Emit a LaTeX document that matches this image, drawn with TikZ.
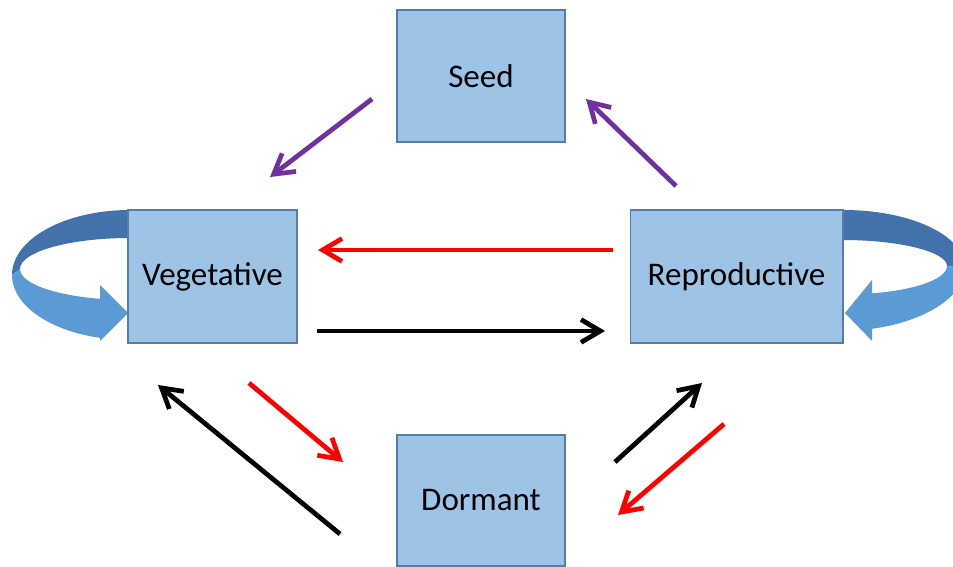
\documentclass[tikz,border=0pt]{standalone}
\usepackage{fontspec}
\setmainfont{Carlito}
\usetikzlibrary{arrows.meta}
\definecolor{boxfill}{RGB}{157,195,230}
\definecolor{boxline}{RGB}{84,125,170}
\definecolor{loopdark}{RGB}{66,113,172}
\definecolor{looplight}{RGB}{91,155,213}
\definecolor{seedpurple}{RGB}{112,48,160}
\begin{document}
\begin{tikzpicture}[x=0.02cm,y=-0.02cm,
  stage/.style={draw=boxline,line width=0.6pt,fill=boxfill,inner sep=0pt,font=\fontsize{18.8}{22}\selectfont},
  trans/.style={line width=2.7pt,-{Straight Barb[length=11pt,width=13pt]}}]
\clip (0,0) rectangle (953,567);
\fill[loopdark] (140,210) -- (130,210) .. controls (64.8,210) and (12,239.1) .. (12,275) -- (20,269) .. controls (20,251.9) and (69.25,238) .. (130,238) -- (140,238) -- cycle;
\begin{scope}
\clip (0,250) rectangle (100,350);
\fill[looplight] (12,275) .. controls (12,310.9) and (64.8,340) .. (130,340) -- (130,300) .. controls (69.25,300) and (20,286.1) .. (20,269) -- cycle;
\end{scope}
\fill[looplight] (100,285) -- (128,313) -- (100,341) -- cycle;
\fill[loopdark] (833,210) -- (843,210) .. controls (910,210) and (965,235) .. (965,268) -- (947,266) .. controls (947,252) and (900,240) .. (843,240) -- (833,240) -- cycle;
\begin{scope}
\clip (872,250) rectangle (953,350);
\fill[looplight] (965,268) .. controls (965,300) and (915,326) .. (860,330) -- (860,294) .. controls (910,292) and (947,280) .. (947,266) -- cycle;
\end{scope}
\fill[looplight] (872,280) -- (845,313) -- (872,341) -- cycle;
\node[stage,minimum width=3.36cm,minimum height=2.64cm] (seed) at (481,76) {Seed};
\node[stage,minimum width=3.38cm,minimum height=2.66cm] (veg) at (212.5,276.5) {Vegetative};
\node[stage,minimum width=4.26cm,minimum height=2.66cm] (repro) at (736.5,276.5) {Reproductive};
\node[stage,minimum width=3.36cm,minimum height=2.62cm] (dorm) at (481,500.5) {Dormant};
\coordinate (sv-a) at (372,99);
\coordinate (sv-b) at (270,177);
\coordinate (rs-a) at (676,186);
\coordinate (rs-b) at (586,99);
\coordinate (rv-a) at (613,250);
\coordinate (rv-b) at (318,250);
\coordinate (vr-a) at (317,331);
\coordinate (vr-b) at (605,331);
\coordinate (dv-a) at (340,534);
\coordinate (dv-b) at (158,385);
\coordinate (vd-a) at (249,383);
\coordinate (vd-b) at (343,462);
\coordinate (dr-a) at (615,462);
\coordinate (dr-b) at (702,383);
\coordinate (rd-a) at (724,424);
\coordinate (rd-b) at (618,515);
\draw[trans,seedpurple] (sv-a) -- (sv-b);
\draw[trans,seedpurple] (rs-a) -- (rs-b);
\draw[trans,red] (rv-a) -- (rv-b);
\draw[trans,black] (vr-a) -- (vr-b);
\draw[trans,black] (dv-a) -- (dv-b);
\draw[trans,red] (vd-a) -- (vd-b);
\draw[trans,black] (dr-a) -- (dr-b);
\draw[trans,red] (rd-a) -- (rd-b);
\end{tikzpicture}
\end{document}
